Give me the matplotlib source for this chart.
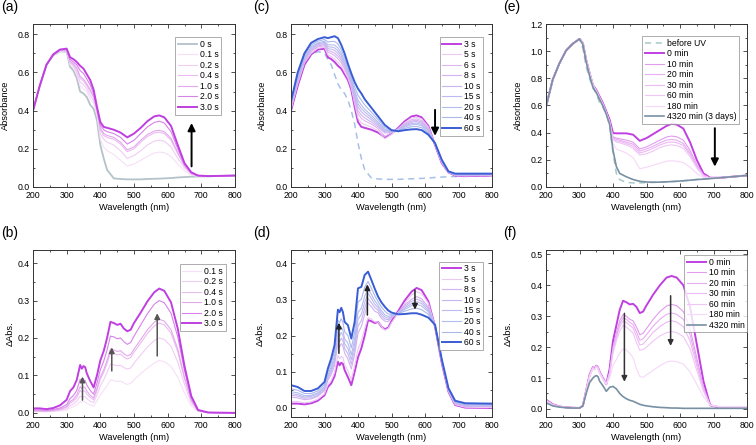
import numpy as np
import matplotlib
matplotlib.use("Agg")
import matplotlib.pyplot as plt
from matplotlib.ticker import MultipleLocator, FormatStrFormatter

plt.rcParams['font.family'] = ['Liberation Sans', 'DejaVu Sans']

# Rejillas de longitud de onda (nm)
wl_abs = [200, 220, 240, 260, 280, 300, 310, 320, 330, 340, 350, 360, 370, 380, 390, 400, 410, 420,
          440, 460, 480, 500, 520, 540, 560, 575, 590, 610, 630, 650, 670, 690, 720, 800]
wl_diff = [200, 220, 240, 260, 280, 300, 310, 320, 330, 340, 345, 350, 355, 360, 370, 380, 390, 400,
           410, 420, 430, 440, 450, 460, 470, 480, 490, 500, 520, 540, 560, 575, 590, 610, 630, 650,
           670, 690, 720, 800]

# (a) absorbancia, irradiacion corta
a_labels = ['0 s', '0.1 s', '0.2 s', '0.4 s', '1.0 s', '2.0 s', '3.0 s']
a_0s = [0.40, 0.53, 0.64, 0.69, 0.71, 0.71, 0.63, 0.61, 0.57, 0.50, 0.49, 0.47, 0.43, 0.41, 0.35, 0.22, 0.15,
        0.09, 0.045, 0.042, 0.040, 0.040, 0.040, 0.042, 0.043, 0.044, 0.045, 0.047, 0.050, 0.052, 0.054, 0.055,
        0.056, 0.060]
a_01s = [0.40, 0.53, 0.64, 0.69, 0.71, 0.715, 0.64, 0.625, 0.59, 0.53, 0.515, 0.50, 0.46, 0.44, 0.38, 0.25,
         0.21, 0.19, 0.17, 0.14, 0.11, 0.12, 0.14, 0.16, 0.178, 0.183, 0.18, 0.16, 0.12, 0.085, 0.062, 0.057,
         0.056, 0.060]
a_02s = [0.40, 0.53, 0.64, 0.69, 0.715, 0.715, 0.65, 0.635, 0.60, 0.55, 0.535, 0.515, 0.48, 0.455, 0.39, 0.28,
         0.25, 0.235, 0.22, 0.19, 0.15, 0.165, 0.19, 0.22, 0.24, 0.245, 0.24, 0.21, 0.15, 0.10, 0.067, 0.058,
         0.056, 0.060]
a_04s = [0.40, 0.53, 0.64, 0.69, 0.715, 0.72, 0.655, 0.64, 0.615, 0.57, 0.555, 0.53, 0.50, 0.47, 0.40, 0.30,
         0.27, 0.26, 0.25, 0.225, 0.185, 0.20, 0.235, 0.265, 0.283, 0.287, 0.28, 0.245, 0.175, 0.11, 0.07,
         0.058, 0.056, 0.060]
a_10s = [0.40, 0.53, 0.64, 0.69, 0.715, 0.72, 0.66, 0.645, 0.625, 0.58, 0.565, 0.54, 0.51, 0.475, 0.405, 0.31,
         0.28, 0.27, 0.26, 0.235, 0.195, 0.21, 0.245, 0.275, 0.293, 0.297, 0.29, 0.255, 0.18, 0.112, 0.072,
         0.059, 0.056, 0.060]
a_20s = [0.40, 0.53, 0.64, 0.69, 0.72, 0.72, 0.67, 0.655, 0.64, 0.61, 0.595, 0.565, 0.535, 0.49, 0.41, 0.325,
         0.30, 0.29, 0.28, 0.26, 0.225, 0.245, 0.28, 0.315, 0.338, 0.345, 0.335, 0.29, 0.20, 0.118, 0.075,
         0.06, 0.057, 0.060]
a_30s = [0.40, 0.53, 0.64, 0.695, 0.72, 0.725, 0.68, 0.67, 0.655, 0.635, 0.62, 0.59, 0.56, 0.51, 0.42, 0.34,
         0.315, 0.31, 0.30, 0.285, 0.26, 0.28, 0.31, 0.345, 0.37, 0.375, 0.365, 0.32, 0.22, 0.125, 0.077,
         0.06, 0.057, 0.060]
a_series = [a_0s, a_01s, a_02s, a_04s, a_10s, a_20s, a_30s]
a_colors = ['#b4c2ca', '#f7e0f7', '#f1cdf3', '#ebbcf1', '#e3a8ee', '#d783ea', '#bf3fe0']
a_widths = [1.3, 0.8, 0.8, 0.8, 0.8, 0.8, 1.4]

# (b) diferencia de absorbancia, irradiacion corta
b_labels = ['0.1 s', '0.2 s', '0.4 s', '1.0 s', '2.0 s', '3.0 s']
b_01s = [0.003, 0.003, 0.003, 0.004, 0.005, 0.008, 0.013, 0.016, 0.021, 0.030, 0.028, 0.030, 0.029, 0.025,
         0.021, 0.018, 0.032, 0.048, 0.060, 0.073, 0.088, 0.086, 0.084, 0.085, 0.080, 0.076, 0.079, 0.088,
         0.105, 0.120, 0.133, 0.140, 0.137, 0.124, 0.095, 0.053, 0.019, 0.004, 0.001, 0.000]
b_02s = [0.004, 0.004, 0.004, 0.005, 0.007, 0.011, 0.019, 0.023, 0.031, 0.045, 0.042, 0.044, 0.043, 0.038,
         0.031, 0.027, 0.048, 0.072, 0.088, 0.108, 0.130, 0.128, 0.126, 0.127, 0.121, 0.117, 0.120, 0.133,
         0.155, 0.176, 0.193, 0.200, 0.196, 0.178, 0.136, 0.076, 0.027, 0.005, 0.001, 0.000]
b_04s = [0.005, 0.005, 0.005, 0.006, 0.009, 0.015, 0.026, 0.031, 0.041, 0.060, 0.056, 0.059, 0.057, 0.050,
         0.041, 0.035, 0.060, 0.090, 0.108, 0.132, 0.160, 0.158, 0.155, 0.157, 0.149, 0.144, 0.148, 0.162,
         0.187, 0.212, 0.232, 0.240, 0.235, 0.213, 0.163, 0.091, 0.033, 0.006, 0.001, 0.000]
b_10s = [0.006, 0.006, 0.005, 0.007, 0.010, 0.017, 0.030, 0.036, 0.048, 0.070, 0.065, 0.069, 0.067, 0.058,
         0.047, 0.040, 0.066, 0.096, 0.115, 0.140, 0.170, 0.168, 0.164, 0.166, 0.158, 0.152, 0.156, 0.170,
         0.196, 0.222, 0.242, 0.250, 0.245, 0.222, 0.170, 0.095, 0.034, 0.006, 0.001, 0.000]
b_20s = [0.008, 0.008, 0.007, 0.009, 0.013, 0.022, 0.038, 0.046, 0.060, 0.090, 0.083, 0.088, 0.086, 0.074,
         0.060, 0.050, 0.080, 0.115, 0.138, 0.168, 0.205, 0.203, 0.198, 0.200, 0.190, 0.183, 0.188, 0.205,
         0.235, 0.265, 0.290, 0.300, 0.294, 0.266, 0.203, 0.113, 0.041, 0.007, 0.001, 0.000]
b_30s = [0.012, 0.012, 0.010, 0.013, 0.020, 0.035, 0.058, 0.068, 0.088, 0.128, 0.118, 0.125, 0.122, 0.105,
         0.085, 0.068, 0.100, 0.140, 0.165, 0.200, 0.243, 0.240, 0.235, 0.238, 0.225, 0.218, 0.222, 0.240,
         0.268, 0.298, 0.322, 0.332, 0.326, 0.295, 0.225, 0.125, 0.045, 0.008, 0.001, 0.000]
b_series = [b_01s, b_02s, b_04s, b_10s, b_20s, b_30s]
b_colors = ['#f7e0f7', '#f1cdf3', '#ebbcf1', '#e3a8ee', '#d783ea', '#bf3fe0']
b_widths = [0.8, 0.8, 0.8, 0.8, 0.8, 1.4]

# (c) absorbancia, irradiacion larga
c_labels = ['3 s', '5 s', '6 s', '8 s', '10 s', '15 s', '20 s', '40 s', '60 s']
c_dash = [0.40, 0.53, 0.64, 0.69, 0.71, 0.70, 0.67, 0.64, 0.59, 0.54, 0.51, 0.49, 0.455, 0.40, 0.33, 0.23,
          0.15, 0.09, 0.047, 0.042, 0.040, 0.040, 0.040, 0.042, 0.043, 0.044, 0.045, 0.047, 0.050, 0.052,
          0.054, 0.055, 0.056, 0.060]
c_3s = a_30s
c_5s = [0.406, 0.54, 0.65, 0.70, 0.727, 0.732, 0.692, 0.684, 0.671, 0.652, 0.635, 0.603, 0.57, 0.52, 0.436,
        0.36, 0.336, 0.328, 0.314, 0.295, 0.252, 0.275, 0.305, 0.338, 0.362, 0.366, 0.357, 0.315, 0.222,
        0.127, 0.078, 0.061, 0.058, 0.061]
c_6s = [0.412, 0.548, 0.655, 0.71, 0.734, 0.74, 0.705, 0.699, 0.689, 0.671, 0.651, 0.618, 0.581, 0.531,
        0.452, 0.384, 0.359, 0.347, 0.329, 0.306, 0.265, 0.284, 0.305, 0.333, 0.353, 0.357, 0.348, 0.309,
        0.222, 0.13, 0.078, 0.062, 0.06, 0.062]
c_8s = [0.418, 0.555, 0.661, 0.716, 0.739, 0.746, 0.715, 0.71, 0.702, 0.685, 0.664, 0.628, 0.59, 0.54,
        0.465, 0.40, 0.376, 0.362, 0.34, 0.315, 0.283, 0.286, 0.304, 0.328, 0.346, 0.35, 0.341, 0.304,
        0.223, 0.131, 0.079, 0.063, 0.062, 0.064]
c_10s = [0.422, 0.56, 0.667, 0.722, 0.745, 0.752, 0.725, 0.722, 0.716, 0.70, 0.676, 0.64, 0.598, 0.548,
         0.478, 0.42, 0.394, 0.378, 0.352, 0.323, 0.29, 0.288, 0.302, 0.324, 0.34, 0.343, 0.335, 0.30,
         0.224, 0.133, 0.079, 0.064, 0.063, 0.065]
c_15s = [0.428, 0.568, 0.673, 0.728, 0.75, 0.758, 0.735, 0.733, 0.729, 0.714, 0.689, 0.65, 0.607, 0.557,
         0.492, 0.436, 0.411, 0.393, 0.363, 0.332, 0.296, 0.29, 0.30, 0.319, 0.333, 0.335, 0.328, 0.295,
         0.226, 0.135, 0.08, 0.066, 0.064, 0.066]
c_20s = [0.432, 0.575, 0.679, 0.734, 0.755, 0.764, 0.745, 0.745, 0.743, 0.729, 0.701, 0.662, 0.615, 0.565,
         0.505, 0.454, 0.429, 0.408, 0.375, 0.34, 0.302, 0.292, 0.298, 0.314, 0.326, 0.328, 0.321, 0.29,
         0.227, 0.137, 0.08, 0.066, 0.065, 0.067]
c_40s = [0.44, 0.586, 0.688, 0.743, 0.764, 0.773, 0.76, 0.762, 0.763, 0.75, 0.72, 0.678, 0.628, 0.578,
         0.524, 0.48, 0.455, 0.43, 0.392, 0.353, 0.312, 0.294, 0.296, 0.307, 0.316, 0.317, 0.311, 0.283,
         0.228, 0.14, 0.081, 0.068, 0.067, 0.068]
c_60s = [0.45, 0.60, 0.70, 0.755, 0.775, 0.785, 0.78, 0.785, 0.79, 0.78, 0.745, 0.70, 0.645, 0.595, 0.55,
         0.515, 0.49, 0.46, 0.415, 0.37, 0.325, 0.298, 0.292, 0.298, 0.302, 0.303, 0.298, 0.274, 0.23,
         0.143, 0.082, 0.07, 0.07, 0.07]
c_series = [c_3s, c_5s, c_6s, c_8s, c_10s, c_15s, c_20s, c_40s, c_60s]
c_colors = ['#c040e0', '#ecc8f2', '#dfb6f0', '#d2b2f0', '#c6b6f0', '#bcbaf0', '#b4bcf0', '#aab8ec', '#3a5cd4']
c_widths = [1.4, 0.8, 0.8, 0.8, 0.8, 0.8, 0.8, 0.8, 1.4]

# (d) diferencia de absorbancia, irradiacion larga
d_labels = ['3 s', '5 s', '8 s', '10 s', '15 s', '20 s', '40 s', '60 s']
d_3s = [0.012, 0.012, 0.010, 0.013, 0.020, 0.035, 0.058, 0.068, 0.088, 0.128, 0.118, 0.125, 0.122, 0.105,
        0.085, 0.063, 0.100, 0.140, 0.165, 0.200, 0.243, 0.240, 0.235, 0.238, 0.225, 0.218, 0.222, 0.240,
        0.268, 0.298, 0.322, 0.332, 0.326, 0.295, 0.225, 0.125, 0.045, 0.008, 0.001, 0.000]
d_5s = [0.018, 0.018, 0.014, 0.017, 0.024, 0.039, 0.064, 0.076, 0.098, 0.145, 0.136, 0.143, 0.139, 0.121,
        0.102, 0.078, 0.117, 0.163, 0.185, 0.220, 0.250, 0.246, 0.238, 0.238, 0.226, 0.215, 0.220, 0.236,
        0.262, 0.290, 0.313, 0.322, 0.316, 0.290, 0.226, 0.126, 0.046, 0.009, 0.002, 0.001]
d_8s = [0.030, 0.028, 0.023, 0.025, 0.032, 0.048, 0.076, 0.092, 0.118, 0.178, 0.169, 0.178, 0.172, 0.152,
        0.135, 0.108, 0.148, 0.207, 0.225, 0.259, 0.290, 0.280, 0.268, 0.263, 0.248, 0.240, 0.239, 0.248,
        0.265, 0.285, 0.301, 0.308, 0.302, 0.279, 0.227, 0.129, 0.049, 0.012, 0.005, 0.004]
d_10s = [0.035, 0.033, 0.027, 0.028, 0.035, 0.052, 0.081, 0.099, 0.127, 0.193, 0.184, 0.193, 0.186, 0.165,
         0.150, 0.121, 0.162, 0.226, 0.242, 0.276, 0.303, 0.291, 0.278, 0.270, 0.255, 0.246, 0.244, 0.251,
         0.264, 0.281, 0.295, 0.301, 0.295, 0.275, 0.227, 0.130, 0.050, 0.013, 0.006, 0.005]
d_15s = [0.040, 0.037, 0.030, 0.032, 0.039, 0.055, 0.086, 0.106, 0.135, 0.207, 0.199, 0.209, 0.201, 0.178,
         0.164, 0.134, 0.176, 0.245, 0.259, 0.292, 0.317, 0.303, 0.287, 0.277, 0.262, 0.252, 0.248, 0.253,
         0.263, 0.277, 0.289, 0.294, 0.289, 0.270, 0.228, 0.131, 0.051, 0.015, 0.008, 0.007]
d_20s = [0.045, 0.042, 0.034, 0.035, 0.042, 0.059, 0.091, 0.113, 0.144, 0.222, 0.214, 0.224, 0.215, 0.191,
         0.179, 0.147, 0.190, 0.264, 0.276, 0.309, 0.330, 0.314, 0.297, 0.284, 0.269, 0.258, 0.253, 0.256,
         0.262, 0.273, 0.283, 0.287, 0.282, 0.266, 0.228, 0.132, 0.052, 0.016, 0.009, 0.008]
d_40s = [0.053, 0.049, 0.040, 0.040, 0.047, 0.065, 0.099, 0.123, 0.157, 0.243, 0.236, 0.247, 0.236, 0.211,
         0.200, 0.166, 0.210, 0.293, 0.301, 0.334, 0.350, 0.331, 0.311, 0.294, 0.279, 0.268, 0.260, 0.259,
         0.261, 0.268, 0.274, 0.276, 0.272, 0.259, 0.229, 0.133, 0.053, 0.018, 0.011, 0.010]
d_60s = [0.063, 0.058, 0.047, 0.047, 0.054, 0.072, 0.109, 0.137, 0.174, 0.272, 0.265, 0.277, 0.265, 0.238,
         0.229, 0.192, 0.238, 0.331, 0.335, 0.368, 0.377, 0.354, 0.330, 0.308, 0.292, 0.280, 0.270, 0.264,
         0.259, 0.260, 0.262, 0.262, 0.258, 0.250, 0.230, 0.135, 0.055, 0.020, 0.013, 0.012]
d_series = [d_3s, d_5s, d_8s, d_10s, d_15s, d_20s, d_40s, d_60s]
d_colors = ['#c040e0', '#ecc8f2', '#d2b2f0', '#c6b6f0', '#bcbaf0', '#b4bcf0', '#aab8ec', '#3a5cd4']
d_widths = [1.4, 0.8, 0.8, 0.8, 0.8, 0.8, 0.8, 1.4]

# (e) absorbancia, relajacion termica
e_labels = ['before UV', '0 min', '10 min', '20 min', '30 min', '60 min', '180 min', '4320 min (3 days)']
e_before = [0.59, 0.79, 0.91, 1.005, 1.055, 1.09, 1.02, 0.885, 0.80, 0.727, 0.69, 0.62, 0.585, 0.54, 0.45,
            0.25, 0.10, 0.054, 0.034, 0.030, 0.030, 0.032, 0.034, 0.036, 0.038, 0.040, 0.042, 0.046, 0.050,
            0.055, 0.058, 0.062, 0.068, 0.085]
e_0m = [0.59, 0.79, 0.91, 1.005, 1.055, 1.09, 1.06, 0.935, 0.84, 0.75, 0.715, 0.666, 0.617, 0.556, 0.495,
        0.397, 0.395, 0.395, 0.395, 0.385, 0.34, 0.36, 0.39, 0.42, 0.45, 0.465, 0.46, 0.43, 0.33, 0.20, 0.10,
        0.068, 0.068, 0.085]
e_10m = [0.59, 0.79, 0.91, 1.005, 1.055, 1.09, 1.06, 0.935, 0.84, 0.75, 0.712, 0.662, 0.612, 0.55, 0.485,
         0.37, 0.36, 0.355, 0.345, 0.33, 0.28, 0.295, 0.32, 0.345, 0.368, 0.375, 0.37, 0.345, 0.27, 0.165,
         0.09, 0.066, 0.068, 0.085]
e_20m = [0.59, 0.79, 0.91, 1.005, 1.055, 1.09, 1.06, 0.935, 0.84, 0.75, 0.71, 0.66, 0.61, 0.548, 0.48,
         0.36, 0.35, 0.345, 0.33, 0.315, 0.265, 0.28, 0.30, 0.325, 0.345, 0.35, 0.345, 0.32, 0.25, 0.155,
         0.085, 0.066, 0.068, 0.085]
e_30m = [0.59, 0.79, 0.91, 1.005, 1.055, 1.09, 1.06, 0.935, 0.84, 0.75, 0.708, 0.658, 0.608, 0.546, 0.478,
         0.355, 0.34, 0.335, 0.32, 0.30, 0.25, 0.265, 0.285, 0.31, 0.327, 0.332, 0.327, 0.305, 0.24, 0.15,
         0.083, 0.065, 0.068, 0.085]
e_60m = [0.59, 0.79, 0.91, 1.005, 1.055, 1.09, 1.06, 0.935, 0.84, 0.75, 0.706, 0.656, 0.606, 0.544, 0.475,
         0.35, 0.33, 0.325, 0.31, 0.285, 0.235, 0.245, 0.265, 0.29, 0.305, 0.31, 0.305, 0.285, 0.225, 0.14,
         0.08, 0.065, 0.068, 0.085]
e_180m = [0.59, 0.79, 0.91, 1.005, 1.055, 1.09, 1.06, 0.935, 0.84, 0.75, 0.70, 0.65, 0.60, 0.54, 0.47,
          0.32, 0.28, 0.27, 0.25, 0.215, 0.135, 0.145, 0.16, 0.175, 0.19, 0.193, 0.19, 0.18, 0.145, 0.10,
          0.07, 0.063, 0.068, 0.085]
e_4320m = [0.59, 0.79, 0.91, 1.005, 1.055, 1.09, 1.05, 0.92, 0.82, 0.735, 0.695, 0.645, 0.595, 0.535, 0.46,
           0.27, 0.15, 0.10, 0.075, 0.055, 0.042, 0.037, 0.035, 0.036, 0.038, 0.040, 0.042, 0.046, 0.050,
           0.055, 0.058, 0.062, 0.068, 0.085]
e_series = [e_before, e_0m, e_10m, e_20m, e_30m, e_60m, e_180m, e_4320m]
e_colors = ['#a9c8c8', '#c040e0', '#e29cf0', '#e8aef2', '#ecbaf4', '#f0c6f6', '#f6d8f8', '#7890a4']
e_widths = [1.1, 1.4, 0.8, 0.8, 0.8, 0.8, 0.8, 1.2]

# (f) diferencia de absorbancia, relajacion termica
f_labels = ['0 min', '10 min', '20 min', '30 min', '60 min', '180 min', '4320 min']
f_0m = [0.030, 0.015, 0.008, 0.005, 0.004, 0.003, 0.010, 0.060, 0.110, 0.135, 0.130, 0.140, 0.135, 0.120,
        0.100, 0.080, 0.130, 0.220, 0.270, 0.320, 0.350, 0.345, 0.338, 0.340, 0.330, 0.310, 0.315, 0.335,
        0.370, 0.400, 0.425, 0.430, 0.425, 0.400, 0.330, 0.210, 0.090, 0.012, 0.004, 0.003]
f_10m = [0.030, 0.015, 0.008, 0.005, 0.004, 0.003, 0.010, 0.060, 0.110, 0.135, 0.130, 0.140, 0.135, 0.120,
         0.100, 0.080, 0.120, 0.200, 0.245, 0.285, 0.305, 0.300, 0.290, 0.285, 0.265, 0.240, 0.245, 0.260,
         0.290, 0.315, 0.333, 0.338, 0.334, 0.315, 0.260, 0.165, 0.070, 0.012, 0.004, 0.003]
f_20m = [0.028, 0.014, 0.008, 0.005, 0.004, 0.003, 0.010, 0.060, 0.110, 0.135, 0.130, 0.140, 0.135, 0.120,
         0.100, 0.080, 0.118, 0.195, 0.237, 0.275, 0.295, 0.290, 0.280, 0.273, 0.250, 0.222, 0.227, 0.240,
         0.268, 0.290, 0.306, 0.310, 0.306, 0.290, 0.240, 0.152, 0.066, 0.012, 0.005, 0.004]
f_30m = [0.027, 0.014, 0.008, 0.005, 0.004, 0.003, 0.010, 0.060, 0.108, 0.133, 0.128, 0.138, 0.133, 0.118,
         0.098, 0.080, 0.115, 0.190, 0.230, 0.266, 0.285, 0.280, 0.270, 0.262, 0.235, 0.207, 0.210, 0.222,
         0.248, 0.266, 0.281, 0.285, 0.281, 0.266, 0.220, 0.140, 0.062, 0.012, 0.006, 0.005]
f_60m = [0.026, 0.013, 0.008, 0.005, 0.004, 0.003, 0.010, 0.058, 0.106, 0.132, 0.127, 0.137, 0.132, 0.117,
         0.097, 0.080, 0.112, 0.180, 0.220, 0.252, 0.270, 0.265, 0.255, 0.245, 0.215, 0.190, 0.192, 0.200,
         0.220, 0.236, 0.247, 0.250, 0.247, 0.234, 0.195, 0.125, 0.057, 0.012, 0.007, 0.006]
f_180m = [0.024, 0.012, 0.007, 0.005, 0.004, 0.003, 0.010, 0.055, 0.104, 0.130, 0.125, 0.135, 0.130, 0.115,
          0.095, 0.080, 0.100, 0.140, 0.160, 0.180, 0.195, 0.190, 0.180, 0.165, 0.130, 0.105, 0.102, 0.110,
          0.125, 0.140, 0.152, 0.155, 0.153, 0.145, 0.120, 0.080, 0.040, 0.012, 0.008, 0.008]
f_4320m = [0.020, 0.010, 0.006, 0.004, 0.003, 0.003, 0.010, 0.050, 0.085, 0.100, 0.105, 0.108, 0.105, 0.090,
           0.075, 0.057, 0.070, 0.073, 0.065, 0.050, 0.040, 0.033, 0.028, 0.025, 0.020, 0.015, 0.012, 0.010,
           0.007, 0.005, 0.004, 0.003, 0.003, 0.002, 0.002, 0.002, 0.002, 0.002, 0.002, 0.002]
f_series = [f_0m, f_10m, f_20m, f_30m, f_60m, f_180m, f_4320m]
f_colors = ['#c040e0', '#e29cf0', '#e8aef2', '#ecbaf4', '#f0c6f6', '#f6d8f8', '#7890a4']
f_widths = [1.4, 0.8, 0.8, 0.8, 0.8, 0.8, 1.2]

# Flechas: (x, y_cola, y_punta)
a_arrows = [(671, 0.108, 0.335)]
b_arrows = [(347, 0.034, 0.097), (434, 0.112, 0.175), (569, 0.152, 0.266)]
c_arrows = [(630, 0.404, 0.268)]
d_arrows = [(343, 0.151, 0.236), (428, 0.257, 0.342), (570, 0.326, 0.272)]
e_arrows = [(704, 0.433, 0.150)]
f_arrows = [(434, 0.309, 0.088), (572, 0.366, 0.204)]


def estilo_ejes(ax, ymin, ymax, ymajor, yminor, ylabel, ylab_x, tag, tag_x):
    ax.set_xlim(200, 800)
    ax.set_ylim(ymin, ymax)
    ax.xaxis.set_major_locator(MultipleLocator(100))
    ax.xaxis.set_minor_locator(MultipleLocator(50))
    ax.yaxis.set_major_locator(MultipleLocator(ymajor))
    ax.yaxis.set_minor_locator(MultipleLocator(yminor))
    ax.yaxis.set_major_formatter(FormatStrFormatter('%.1f'))
    ax.tick_params(which='both', direction='in', top=True, right=True, labelsize=6.3,
                   width=0.6, color='#333333')
    ax.tick_params(axis='x', which='both', pad=3.2)
    ax.tick_params(axis='y', which='both', pad=2.6)
    ax.tick_params(which='major', length=2.6)
    ax.tick_params(which='minor', length=1.6)
    for s in ax.spines.values():
        s.set_linewidth(0.7)
        s.set_color('#333333')
    ax.set_xlabel('Wavelength (nm)', fontsize=6.7, labelpad=2)
    ax.set_ylabel(ylabel, fontsize=6.7)
    ax.yaxis.set_label_coords(ylab_x, 0.5)
    # etiqueta del panel, en pixeles de la figura
    fig = ax.figure
    bb = ax.get_position()
    fig.text(tag_x / 756.0, bb.y1 + 10 / 445.0, tag, fontsize=10, va='bottom', ha='left')


def dibujar(ax, wl, series, colors, widths, labels, styles=None):
    for i, y in enumerate(series):
        ls = styles[i] if styles else '-'
        ax.plot(wl, y, color=colors[i], lw=widths[i], ls=ls, label=labels[i] if labels else None)


def flechas(ax, arrows, color, lw, ms):
    for x, y0, y1 in arrows:
        ax.annotate('', xy=(x, y1), xytext=(x, y0),
                    arrowprops=dict(arrowstyle='-|>', color=color, lw=lw, mutation_scale=ms,
                                    shrinkA=0, shrinkB=0))


def leyenda(ax, anchor):
    leg = ax.legend(loc='upper right', bbox_to_anchor=anchor, fontsize=6.2, frameon=True,
                    fancybox=False, handlelength=2.2, handletextpad=0.35, labelspacing=0.18,
                    borderpad=0.3, borderaxespad=0.0)
    leg.get_frame().set_edgecolor('#888888')
    leg.get_frame().set_linewidth(0.6)


def main():

    fig = plt.figure(figsize=(7.56, 4.45), dpi=100)
    W, H = 756.0, 445.0
    top_y0, top_h = 1 - 187 / H, 163 / H
    bot_y0, bot_h = 1 - 417 / H, 167 / H
    ax_a = fig.add_axes([33 / W, top_y0, 202 / W, top_h])
    ax_c = fig.add_axes([291 / W, top_y0, 201 / W, top_h])
    ax_e = fig.add_axes([546 / W, top_y0, 201 / W, top_h])
    ax_b = fig.add_axes([33 / W, bot_y0, 202 / W, bot_h])
    ax_d = fig.add_axes([291 / W, bot_y0, 201 / W, bot_h])
    ax_f = fig.add_axes([546 / W, bot_y0, 201 / W, bot_h])

    # (a)
    dibujar(ax_a, wl_abs, a_series, a_colors, a_widths, a_labels)
    flechas(ax_a, a_arrows, 'k', 1.4, 11)
    leyenda(ax_a, (0.931, 0.92))

    # (b)
    dibujar(ax_b, wl_diff, b_series, b_colors, b_widths, b_labels)
    flechas(ax_b, b_arrows, '#555555', 1.1, 8)
    leyenda(ax_b, (0.954, 0.916))

    # (c)
    ax_c.plot(wl_abs, c_dash, color='#a8c0e8', lw=1.1, ls=(0, (4, 3)))
    dibujar(ax_c, wl_abs, c_series, c_colors, c_widths, c_labels)
    flechas(ax_c, c_arrows, 'k', 1.4, 11)
    leyenda(ax_c, (0.957, 0.92))

    # (d)
    dibujar(ax_d, wl_diff, d_series, d_colors, d_widths, d_labels)
    flechas(ax_d, d_arrows, '#222222', 1.1, 8)
    leyenda(ax_d, (0.954, 0.93))

    # (e)
    estilos_e = [(0, (4, 3))] + ['-'] * 7
    dibujar(ax_e, wl_abs, e_series, e_colors, e_widths, e_labels, estilos_e)
    flechas(ax_e, e_arrows, 'k', 1.4, 11)
    leyenda(ax_e, (0.96, 0.926))

    # (f)
    dibujar(ax_f, wl_diff, f_series, f_colors, f_widths, f_labels)
    flechas(ax_f, f_arrows, '#333333', 1.1, 8)
    leyenda(ax_f, (1.0, 0.97))

    estilo_ejes(ax_a, 0, 0.854, 0.2, 0.1, 'Absorbance', -0.116, '(a)', 1)
    estilo_ejes(ax_c, 0, 0.854, 0.2, 0.1, 'Absorbance', -0.12, '(c)', 253)
    estilo_ejes(ax_e, 0, 1.2, 0.2, 0.1, 'Absorbance', -0.114, '(e)', 503)
    estilo_ejes(ax_b, -0.011, 0.435, 0.1, 0.05, 'ΔAbs.', -0.089, '(b)', 1)
    estilo_ejes(ax_d, -0.025, 0.437, 0.1, 0.05, 'ΔAbs.', -0.13, '(d)', 253)
    estilo_ejes(ax_f, -0.026, 0.514, 0.1, 0.05, 'ΔAbs.', -0.164, '(f)', 503)

    fig.savefig('out.png', dpi=100)


if __name__ == "__main__":
    main()
